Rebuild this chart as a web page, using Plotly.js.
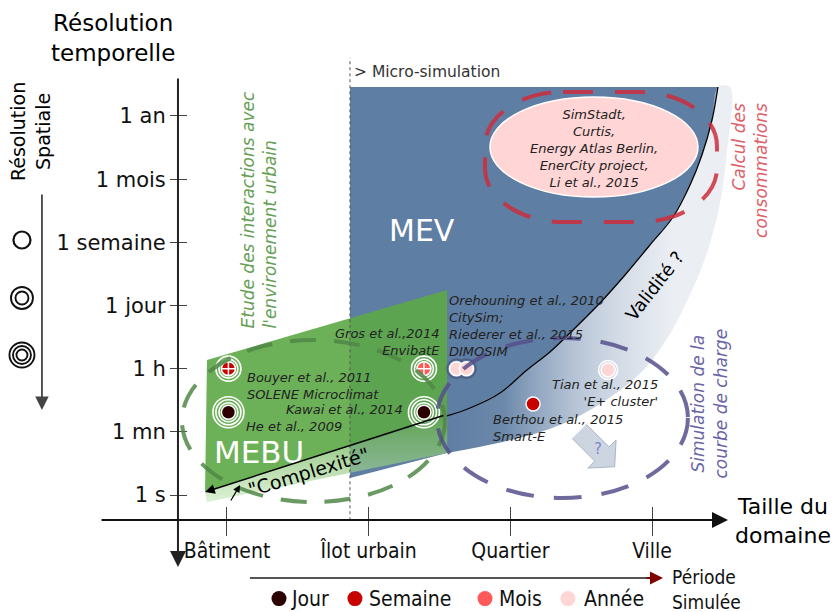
<!DOCTYPE html>
<html><head><meta charset="utf-8">
<script src="https://cdn.plot.ly/plotly-3.0.1.min.js"></script>
<style>body{margin:0;background:#fff}</style>
</head><body>
<div id="chart" style="width:834px;height:612px"></div>
<script>
// ---------------- DATA ----------------
const sizeLabels = ['Bâtiment', 'Îlot urbain', 'Quartier', 'Ville'];
const sizeTickVals = [1, 2, 3, 4];
const timeLabels = ['1 s', '1 mn', '1 h', '1 jour', '1 semaine', '1 mois', '1 an'];
const timeTickVals = [0, 1, 2, 3, 4, 5, 6];

const periodNames = ['Jour', 'Semaine', 'Mois', 'Année'];

// studies: domain size (category scale), temporal resolution (level scale)
const studyX = [1.01, 1.01, 2.39, 2.62, 2.69, 2.39, 3.16, 3.69];
const studyY = [2.0, 1.31, 2.0, 2.0, 2.0, 1.31, 1.44, 1.98];
const studyPeriod = ['Semaine', 'Jour', 'Mois', 'Année', 'Année', 'Jour', 'Semaine', 'Année'];
const studyRings = [2, 3, 2, 1, 1, 3, 0, 1];
const studyCross = [1, 0, 1, 0, 0, 0, 0, 0];

const spatialLevels = [1, 2, 3];

// ---------------- STYLE ----------------
const periodColors = {'Jour': '#2b0000', 'Semaine': '#c80000', 'Mois': '#ff5a5a', 'Année': '#ffd5d5'};
const ringColors = ['#ffffff', '#ffffff', '#ffffff', '#4e5f85', '#4e5f85', '#ffffff', '#ffffff', '#ffffff'];
const BLUE = '#5f7ea3';
const FONT = 'DejaVu Sans';
const FONTC = 'DejaVu Sans Condensed';

// ---------------- DIAGRAM GEOMETRY (data units) ----------------
const curveX = [2.553, 2.715, 2.927, 3.117, 3.279, 3.442, 3.632, 3.809, 3.985, 4.148, 4.268, 4.352, 4.423, 4.465];
const curveY = [1.251, 1.377, 1.615, 1.979, 2.264, 2.612, 3.039, 3.483, 3.958, 4.401, 4.907, 5.382, 5.936, 6.459];

const mevX = [1.868].concat(curveX.slice().reverse(), [2.553, 1.868]);
const mevY = [6.459].concat(curveY.slice().reverse(), [0.665, 0.269]);

const gradX = curveX.concat([4.550, 4.530, 4.470, 4.370, 4.250, 4.100, 3.880, 3.350, 2.553]);
const gradY = curveY.concat([6.459, 5.462, 4.512, 3.720, 3.087, 2.454, 1.850, 1.108, 0.665]);

const greenAX = [0.859, 2.553, 2.553, 0.845];
const greenAY = [2.137, 3.245, 1.251, 0.047];
const greenBX = [0.845, 2.553, 2.553, 0.859];
const greenBY = [0.047, 1.251, 0.665, -0.111];

const qArrowX = [3.536, 3.697, 3.746, 3.736, 3.547, 3.596, 3.436];
const qArrowY = [1.121, 0.761, 0.872, 0.448, 0.426, 0.537, 0.896];

function rr(x0, y0, x1, y1, rx, ry) {
  const k = 0.45;
  return `M${x0+rx},${y1} L${x1-rx},${y1} C${x1-rx*k},${y1} ${x1},${y1-ry*k} ${x1},${y1-ry} ` +
         `L${x1},${y0+ry} C${x1},${y0+ry*k} ${x1-rx*k},${y0} ${x1-rx},${y0} ` +
         `L${x0+rx},${y0} C${x0+rx*k},${y0} ${x0},${y0+ry*k} ${x0},${y0+ry} ` +
         `L${x0},${y1-ry} C${x0},${y1-ry*k} ${x0+rx*k},${y1} ${x0+rx},${y1} Z`;
}

// ---------------- TRACES ----------------
const traces = [];
traces.push({x: mevX, y: mevY, mode: 'lines', fill: 'toself', fillcolor: BLUE, line: {width: 0}, hoverinfo: 'skip'});
traces.push({x: gradX, y: gradY, mode: 'lines', fill: 'toself', line: {width: 0}, hoverinfo: 'skip', line: {shape: 'spline', width: 0},
  fillgradient: {type: 'horizontal', start: 2.55, stop: 4.55,
    colorscale: [[0, 'rgba(95,126,163,1)'], [0.2, 'rgba(95,126,163,0.92)'], [0.5, 'rgba(150,170,196,0.6)'],
                 [0.8, 'rgba(205,214,226,0.4)'], [1, 'rgba(215,222,232,0.5)']]}});
traces.push({x: greenAX, y: greenAY, mode: 'lines', fill: 'toself', fillcolor: 'rgba(92,168,70,0.9)', line: {width: 0}, hoverinfo: 'skip'});
traces.push({x: greenBX, y: greenBY, mode: 'lines', fill: 'toself', line: {width: 0}, hoverinfo: 'skip',
  fillgradient: {type: 'vertical', start: -0.11, stop: 1.25,
    colorscale: [[0, 'rgba(190,228,178,0.55)'], [1, 'rgba(95,168,72,0.9)']]}});
traces.push({x: curveX, y: curveY, mode: 'lines', line: {color: '#000', width: 1.3, shape: 'spline'}, hoverinfo: 'skip'});
traces.push({x: qArrowX, y: qArrowY, mode: 'lines', fill: 'toself', fillcolor: '#cdd5e0', line: {color: '#aab4c6', width: 1}, hoverinfo: 'skip'});

// rings (spatial resolution) around studies
const ringSize = [0, 19, 25, 31];
for (let k = 3; k >= 1; k--) {
  const idx = studyX.map((_, i) => i).filter(i => studyRings[i] >= k);
  traces.push({x: idx.map(i => studyX[i]), y: idx.map(i => studyY[i]), mode: 'markers', hoverinfo: 'skip',
    marker: {symbol: 'circle-open', size: ringSize[k], color: idx.map(i => ringColors[i]),
             line: {color: idx.map(i => ringColors[i]), width: 1.6}}});
}
// study discs
traces.push({x: studyX, y: studyY, mode: 'markers', hoverinfo: 'skip',
  marker: {symbol: studyCross.map(c => c ? 'circle-cross' : 'circle'), size: 14,
           color: studyPeriod.map(p => periodColors[p]), line: {color: '#fff', width: 1.5}}});

// spatial resolution legend (left)
const spatialY = [4.037, 3.119, 2.216];
const spSizes = [[17], [13, 22], [11, 18, 25]];
spatialLevels.forEach((lv, j) => {
  spSizes[j].forEach(s => {
    traces.push({x: [-0.447], y: [spatialY[j]], mode: 'markers', hoverinfo: 'skip',
      marker: {symbol: 'circle-open', size: s, color: '#111', line: {color: '#111', width: lv === 1 ? 2.2 : 1.9}}});
  });
});

// period legend (bottom)
const legendMX = [1.367, 1.903, 2.821, 3.406];
const legendY = -1.64;
traces.push({x: legendMX, y: legendMX.map(() => legendY), mode: 'markers', hoverinfo: 'skip',
  marker: {size: 15, color: periodNames.map(p => periodColors[p])}});

// helper trace for the crossing tick axes
traces.push({x: [null], y: [null], xaxis: 'x2', yaxis: 'y2', mode: 'markers', hoverinfo: 'skip'});

// ---------------- ANNOTATIONS ----------------
const ann = [];
function txt(x, y, text, opt) { ann.push(Object.assign({x: x, y: y, text: text, showarrow: false, xref: 'x', yref: 'y'}, opt)); }
const ital = {family: FONT, size: 13, color: '#222', style: 'italic'};

txt(0.195, 7.235, 'Résolution<br>temporelle', {font: {family: FONT, size: 23, color: '#000'}});
txt(4.924, -0.412, 'Taille du<br>domaine', {font: {family: FONT, size: 22, color: '#000'}});
txt(-0.390, 5.746, 'Résolution<br>Spatiale', {textangle: -90, font: {family: FONT, size: 19, color: '#000'}});
txt(1.885, 6.696, '> Micro-simulation', {xanchor: 'left', font: {family: FONT, size: 15.5, color: '#333'}});
txt(2.376, 4.195, 'MEV', {font: {family: FONT, size: 30, color: '#fff'}});
txt(1.226, 0.681, 'MEBU', {font: {family: FONT, size: 31, color: '#fff'}});

txt(1.127, 1.733, 'Bouyer et al., 2011<br>SOLENE Microclimat', {xanchor: 'left', align: 'left', font: ital});
txt(2.256, 1.346, 'Kawai et al., 2014', {xanchor: 'right', font: ital});
txt(1.120, 1.092, 'He et al., 2009', {xanchor: 'left', font: ital});
txt(2.517, 2.422, 'Gros et al.,2014<br>EnvibatE', {xanchor: 'right', align: 'right', font: ital});
txt(2.553, 2.683, 'Orehouning et al., 2010<br>CitySim;<br>Riederer et al., 2015<br>DIMOSIM', {xanchor: 'left', align: 'left', font: ital});
txt(4.056, 1.607, "Tian et al., 2015<br>'E+ cluster'", {xanchor: 'right', align: 'right', font: ital});
txt(2.863, 1.061, 'Berthou et al., 2015<br>Smart-E', {xanchor: 'left', align: 'left', font: ital});
txt(3.590, 5.493, 'SimStadt,<br>Curtis,<br>Energy Atlas Berlin,<br>EnerCity project,<br>Li et al., 2015', {align: 'center', font: ital});

txt(1.226, 4.504, "Etude des interactions avec<br>l'environement urbain", {textangle: -90, align: 'left', font: {family: FONT, size: 17, color: '#66a055', style: 'italic'}});
txt(4.691, 5.145, 'Calcul des<br>consommations', {textangle: -90, align: 'right', font: {family: FONT, size: 17, color: '#e06068', style: 'italic'}});
txt(4.405, 1.456, 'Simulation de la<br>courbe de charge', {textangle: -90, align: 'center', font: {family: FONT, size: 17, color: '#6a66a6', style: 'italic'}});
txt(4.02, 3.31, 'Validité ?', {textangle: -52, font: {family: FONT, size: 18, color: '#000'}});
txt(1.572, 0.364, '"Complexité"', {textangle: -17, font: {family: FONT, size: 19, color: '#000'}});
txt(3.618, 0.728, '?', {font: {family: FONT, size: 15, color: '#8484c8'}});

// legend labels
const legendTX = [1.438, 1.988, 2.905, 3.505];
periodNames.forEach((p, i) => txt(legendTX[i], legendY, p, {xanchor: 'left', font: {family: FONTC, size: 21, color: '#111'}}));
txt(4.126, -1.49, 'Période<br>Simulée', {xanchor: 'left', align: 'left', font: {family: FONTC, size: 19, color: '#111'}});

// arrows
function arr(x, y, ax, ay, opt) {
  ann.push(Object.assign({x: x, y: y, ax: ax, ay: ay, xref: 'x', yref: 'y', axref: 'x', ayref: 'y', text: '',
    showarrow: true, arrowhead: 2, arrowsize: 1.3, arrowwidth: 2, arrowcolor: '#000'}, opt));
}
arr(0.654, -1.140, 0.654, 6.617, {arrowcolor: '#222', arrowsize: 1.6});            // y axis
arr(4.536, -0.396, 0.104, -0.396, {arrowcolor: '#111', arrowsize: 1.6});           // x axis
arr(-0.306, 1.346, -0.306, 4.781, {arrowcolor: '#444', arrowwidth: 1.8, arrowsize: 1.5}); // spatial
arr(0.845, 0.047, 2.538, 1.266, {arrowwidth: 1.4, arrowsize: 1.4}); // complexité
arr(1.092, 0.158, 1.021, -0.111, {arrowwidth: 1.2, arrowsize: 1.2}); // small
arr(4.077, -1.314, 3.95, -1.314, {arrowcolor: '#800000', arrowwidth: 2, arrowsize: 1.3}); // legend head

// ---------------- SHAPES ----------------
const shapes = [
  {type: 'line', xref: 'x', yref: 'y', x0: 1.868, x1: 1.868, y0: -0.40, y1: 6.92, line: {color: '#555', width: 1, dash: 'dot'}, layer: 'above'},
  {type: 'line', xref: 'x', yref: 'y', x0: 1.162, x1: 3.97, y0: -1.314, y1: -1.314, line: {color: '#555', width: 2}},
  {type: 'circle', xref: 'x', yref: 'y', x0: 0.682, x1: 2.538, y0: -0.111, y1: 2.454,
   line: {color: 'rgba(80,135,70,0.85)', width: 4, dash: '26px,18px'}, layer: 'above'},
  {type: 'circle', xref: 'x', yref: 'y', x0: 2.482, x1: 4.253, y0: -0.047, y1: 2.485,
   line: {color: 'rgba(85,80,140,0.85)', width: 4, dash: '28px,20px'}, layer: 'above'},
  {type: 'path', xref: 'x', yref: 'y', path: rr(2.821, 4.322, 4.458, 6.380, 0.55, 0.85),
   line: {color: 'rgba(205,45,60,0.85)', width: 4, dash: '30px,22px'}, layer: 'above'},
  {type: 'circle', xref: 'x', yref: 'y', x0: 2.856, x1: 4.324, y0: 4.717, y1: 6.300,
   fillcolor: '#ffd5d5', line: {color: '#fff', width: 1.5}, layer: 'above'}
];

// ---------------- LAYOUT ----------------
const XR = [-0.602, 5.284], YR = [-1.852, 7.836];
const layout = {
  width: 834, height: 612, margin: {l: 0, r: 0, t: 0, b: 0}, showlegend: false,
  paper_bgcolor: '#fff', plot_bgcolor: 'rgba(0,0,0,0)',
  xaxis: {range: XR, domain: [0, 1], anchor: 'free', position: 0.1503, showgrid: false, zeroline: false, showline: false,
    tickvals: sizeTickVals, ticktext: sizeLabels, ticks: 'outside', ticklen: 15, tickwidth: 1, tickcolor: '#444',
    ticklabelstandoff: -3,
    tickfont: {family: FONTC, size: 21, color: '#111'}, automargin: false, fixedrange: true},
  xaxis2: {range: XR, overlaying: 'x', anchor: 'free', position: 0.1503, showgrid: false, zeroline: false, showline: false,
    tickvals: sizeTickVals, ticks: 'inside', ticklen: 13, tickwidth: 1, tickcolor: '#444', showticklabels: false, automargin: false},
  yaxis: {range: YR, domain: [0, 1], anchor: 'free', position: 0.2134, showgrid: false, zeroline: false, showline: false,
    tickvals: timeTickVals, ticktext: timeLabels, ticks: 'outside', ticklen: 8, tickwidth: 1, tickcolor: '#444',
    tickfont: {family: FONT, size: 21, color: '#111'}, automargin: false, fixedrange: true},
  yaxis2: {range: YR, overlaying: 'y', anchor: 'free', position: 0.2134, showgrid: false, zeroline: false, showline: false,
    tickvals: timeTickVals, ticks: 'inside', ticklen: 8, tickwidth: 1, tickcolor: '#444', showticklabels: false, automargin: false},
  shapes: shapes, annotations: ann
};
Plotly.newPlot('chart', traces, layout, {staticPlot: true, displayModeBar: false});
</script>
</body></html>
